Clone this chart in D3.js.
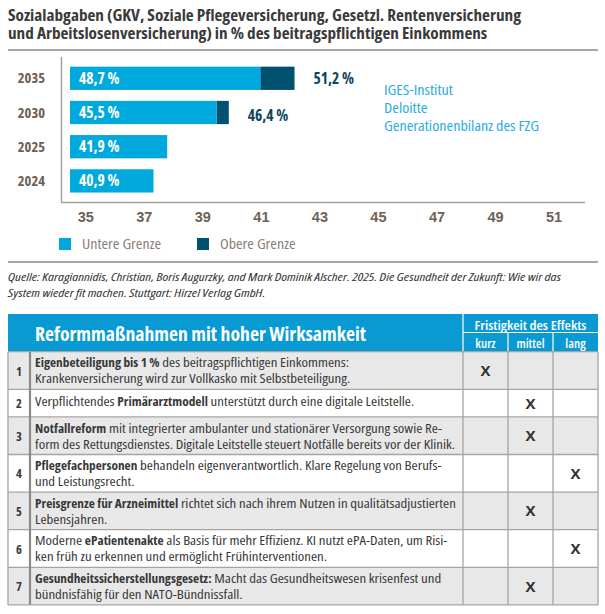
<!DOCTYPE html>
<html><head><meta charset="utf-8">
<script src="https://cdn.jsdelivr.net/npm/d3@7"></script>
<style>
body{margin:0;background:#fff}
svg{display:block;font-family:"Open Sans","Liberation Sans",sans-serif;font-stretch:75%}
</style></head><body>
<svg id="c" width="605" height="614"></svg>
<script>
// ---------- data ----------
const titleLines = [
  "Sozialabgaben (GKV, Soziale Pflegeversicherung, Gesetzl. Rentenversicherung",
  "und Arbeitslosenversicherung) in % des beitragspflichtigen Einkommens"
];
const years = ["2035", "2030", "2025", "2024"];
const lowerBound = [48.7, 45.5, 41.9, 40.9];
const upperBound = [51.2, 46.4, null, null];
const tickValues = [35, 37, 39, 41, 43, 45, 47, 49, 51];
const sourceNames = ["IGES-Institut", "Deloitte", "Generationenbilanz des FZG"];
const legendLabels = ["Untere Grenze", "Obere Grenze"];
const citation = [
  "Quelle: Karagiannidis, Christian, Boris Augurzky, and Mark Dominik Alscher. 2025. Die Gesundheit der Zukunft: Wie wir das",
  "System wieder fit machen. Stuttgart: Hirzel Verlag GmbH."
];
const tableTitle = "Reformmaßnahmen mit hoher Wirksamkeit";
const horizonTitle = "Fristigkeit des Effekts";
const horizons = ["kurz", "mittel", "lang"];
const measures = [
  ["**Eigenbeteiligung bis 1 %** des beitragspflichtigen Einkommens:",
   "Krankenversicherung wird zur Vollkasko mit Selbstbeteiligung."],
  ["Verpflichtendes **Primärarztmodell** unterstützt durch eine digitale Leitstelle."],
  ["**Notfallreform** mit integrierter ambulanter und stationärer Versorgung sowie Re-",
   "form des Rettungsdienstes. Digitale Leitstelle steuert Notfälle bereits vor der Klinik."],
  ["**Pflegefachpersonen** behandeln eigenverantwortlich. Klare Regelung von Berufs-",
   "und Leistungsrecht."],
  ["**Preisgrenze für Arzneimittel** richtet sich nach ihrem Nutzen in qualitätsadjustierten",
   "Lebensjahren."],
  ["Moderne **ePatientenakte** als Basis für mehr Effizienz. KI nutzt ePA-Daten, um Risi-",
   "ken früh zu erkennen und ermöglicht Frühinterventionen."],
  ["**Gesundheitssicherstellungsgesetz:** Macht das Gesundheitswesen krisenfest und",
   "bündnisfähig für den NATO-Bündnissfall."]
];
const measureHorizon = ["kurz", "mittel", "mittel", "lang", "mittel", "lang", "mittel"];

// ---------- style ----------
const C = {
  light: "#00a9dd", dark: "#00506f", header: "#0a9ad3",
  axis: "#a7a19b", label: "#6e6155", text: "#383838", source: "#2bace2",
  rowGray: "#e8e8e8", grid: "#aaa49e"
};
const de = d3.formatLocale({decimal: ",", thousands: ".", grouping: [3], currency: ["", " €"]});
const fmt = v => de.format(".1f")(v) + " %";

// stretch a group of texts horizontally by a common factor so that its reference text has the given width
function fit(sel, refIndex, width) {
  const nodes = sel.nodes();
  const k = width / nodes[refIndex].getComputedTextLength();
  nodes.forEach(n => {
    n.setAttribute("textLength", (n.getComputedTextLength() * k).toFixed(2));
    n.setAttribute("lengthAdjust", "spacingAndGlyphs");
  });
}

const svg = d3.select("#c");
svg.append("rect").attr("width", 605).attr("height", 614).attr("fill", "#fff");

// ---------- title ----------
const title = svg.append("g").selectAll("text").data(titleLines).join("text")
  .attr("x", 8).attr("y", (d, i) => 21 + i * 17.5)
  .attr("font-size", 16).attr("font-weight", 700).attr("fill", "#3a3a3a")
  .text(d => d);
fit(title, 0, 513);
svg.append("line").attr("x1", 8).attr("x2", 598).attr("y1", 50).attr("y2", 50)
  .attr("stroke", "#8e8a86").attr("stroke-width", 1.5);

// ---------- chart ----------
const xBar = d3.scaleLinear().domain([34.8, 51.2]).range([70, 294.5]);
const xTick = d3.scaleLinear().domain([35, 51]).range([85.3, 553.5]);
const y = d3.scaleBand().domain(years).range([61.2, 198]).paddingInner(0.32).paddingOuter(0.16);

const rows = years.map((yr, i) => ({yr, lo: lowerBound[i], hi: upperBound[i]}));

svg.append("line").attr("x1", 61.5).attr("x2", 61.5).attr("y1", 57).attr("y2", 202.5)
  .attr("stroke", C.axis).attr("stroke-width", 1.5);
svg.append("line").attr("x1", 61).attr("x2", 585).attr("y1", 202.5).attr("y2", 202.5)
  .attr("stroke", C.axis).attr("stroke-width", 1.5);

const gBars = svg.append("g");
gBars.selectAll("rect.hi").data(rows.filter(d => d.hi != null)).join("rect")
  .attr("class", "hi")
  .attr("x", d => xBar(d.lo)).attr("width", d => xBar(d.hi) - xBar(d.lo))
  .attr("y", d => y(d.yr)).attr("height", y.bandwidth()).attr("fill", C.dark);
gBars.selectAll("rect.lo").data(rows).join("rect")
  .attr("class", "lo")
  .attr("x", xBar(34.8)).attr("width", d => xBar(d.lo) - xBar(34.8))
  .attr("y", d => y(d.yr)).attr("height", y.bandwidth()).attr("fill", C.light);
gBars.selectAll("text.in").data(rows).join("text")
  .attr("class", "in")
  .attr("x", xBar(34.8) + 9).attr("y", d => y(d.yr) + y.bandwidth() / 2 + 5.5)
  .attr("font-size", 15.5).attr("font-weight", 700).attr("fill", "#fff")
  .style("font-stretch", "85%")
  .text(d => fmt(d.lo));
gBars.selectAll("text.out").data(rows.filter(d => d.hi != null)).join("text")
  .attr("class", "out")
  .attr("x", d => xBar(d.hi) + 19).attr("y", (d, i) => y(d.yr) + y.bandwidth() / 2 + 5.5 + i * 3)
  .attr("font-size", 15.5).attr("font-weight", 700).attr("fill", "#0d4560")
  .style("font-stretch", "80%")
  .text(d => fmt(d.hi));

// year labels
svg.append("g").selectAll("text").data(years).join("text")
  .attr("x", 45).attr("y", d => y(d) + y.bandwidth() / 2 + 5)
  .attr("text-anchor", "end").attr("font-size", 14.5).attr("font-weight", 700).attr("fill", C.label)
  .style("font-stretch", "80%")
  .text(d => d);

// x axis labels
const gx = svg.append("g").attr("transform", "translate(0,203)")
  .call(d3.axisBottom(xTick).tickValues(tickValues).tickSize(0).tickPadding(9).tickFormat(d3.format("d")));
gx.select(".domain").remove();
gx.selectAll("text").attr("font-size", 14.5).attr("font-weight", 700).attr("fill", C.label)
  .attr("font-family", null).style("font-stretch", "80%");

// sources
const src = svg.append("g").selectAll("text").data(sourceNames).join("text")
  .attr("x", 384).attr("y", (d, i) => 95 + i * 17.8)
  .attr("font-size", 14).attr("fill", C.source).text(d => d);
fit(src, 2, 155);

// legend
const lg = svg.append("g").selectAll("g").data(legendLabels).join("g")
  .attr("transform", (d, i) => `translate(${59 + i * 138},238)`);
lg.append("rect").attr("width", 12).attr("height", 12).attr("fill", (d, i) => i ? C.dark : C.light);
const lgt = lg.append("text").attr("x", 23).attr("y", 11).attr("font-size", 14).attr("fill", "#8a8079").text(d => d);
fit(lgt, 0, 79);

svg.append("line").attr("x1", 8).attr("x2", 598).attr("y1", 262).attr("y2", 262)
  .attr("stroke", "#8e8a86").attr("stroke-width", 1.5);

// citation
const cit = svg.append("g").selectAll("text").data(citation).join("text")
  .attr("x", 8).attr("y", (d, i) => 281 + i * 16)
  .attr("font-size", 11.5).attr("font-style", "italic").attr("fill", "#333")
  .text(d => d);
fit(cit, 0, 553);

// ---------- table ----------
const tL = 8, tR = 598, tTop = 314, hBot = 351.7;
const colNum = 30, colK = 463;
const xH = d3.scaleBand().domain(horizons).range([colK, tR]);

svg.append("rect").attr("x", tL).attr("y", tTop).attr("width", tR - tL).attr("height", hBot - tTop).attr("fill", C.header);
const tt = svg.append("text").attr("x", 35).attr("y", 341).attr("font-size", 20).attr("font-weight", 700).attr("fill", "#fff").text(tableTitle);
fit(tt, 0, 331);
const ht = svg.append("text").attr("x", (colK + tR) / 2).attr("y", 330).attr("text-anchor", "middle")
  .attr("font-size", 13).attr("font-weight", 600).attr("fill", "#fff").text(horizonTitle);
fit(ht, 0, 112);
svg.append("line").attr("x1", colK).attr("x2", tR).attr("y1", 332.5).attr("y2", 332.5).attr("stroke", "#fff").attr("stroke-width", 1);
svg.append("line").attr("x1", colK).attr("x2", colK).attr("y1", tTop).attr("y2", hBot).attr("stroke", "#fff").attr("stroke-width", 1.2);
svg.append("g").selectAll("line").data(horizons.slice(1)).join("line")
  .attr("x1", d => xH(d)).attr("x2", d => xH(d)).attr("y1", 332.5).attr("y2", hBot)
  .attr("stroke", "#fff").attr("stroke-width", 1.2);
svg.append("g").selectAll("text").data(horizons).join("text")
  .attr("x", d => xH(d) + xH.bandwidth() / 2).attr("y", 347.5).attr("text-anchor", "middle")
  .attr("font-size", 13).attr("font-weight", 600).attr("fill", "#fff")
  .style("font-stretch", "85%").text(d => d);

// rows
let acc = hBot;
const rowData = measures.map((lines, i) => {
  const h = lines.length === 1 ? 27.6 : 37.6;
  const r = {i, lines, top: acc, h, horizon: measureHorizon[i]};
  acc += h;
  return r;
});
const tBot = acc;
const gr = svg.append("g").selectAll("g").data(rowData).join("g");
gr.append("rect").attr("x", tL).attr("y", d => d.top).attr("width", tR - tL).attr("height", d => d.h)
  .attr("fill", d => d.i % 2 === 0 ? C.rowGray : "#fff");
gr.append("text").attr("x", 19).attr("y", d => d.top + d.h / 2 + 5).attr("text-anchor", "middle")
  .attr("font-size", 12.5).attr("font-weight", 700).attr("fill", C.text).text(d => d.i + 1);
gr.append("text").attr("x", d => xH(d.horizon) + xH.bandwidth() / 2).attr("y", d => d.top + d.h / 2 + 5.5)
  .attr("text-anchor", "middle").attr("font-size", 15).attr("font-weight", 700).attr("fill", "#333")
  .style("font-stretch", "100%").text("X");

// measure text: each line built from regular / bold segments laid out one after another
const lineObjs = [];
gr.each(function(d) {
  const g = d3.select(this);
  d.lines.forEach((ln, j) => {
    const yb = d.lines.length === 1 ? d.top + 17 : d.top + 15.6 + j * 16;
    const segs = [];
    ln.split("**").forEach((seg, k) => {
      if (!seg) return;
      const t = g.append("text").attr("y", yb).attr("font-size", 12.3)
        .attr("font-weight", k % 2 ? 700 : 400).attr("fill", C.text)
        .style("white-space", "pre").text(seg);
      segs.push({node: t.node(), bold: k % 2 === 1, w: t.node().getComputedTextLength()});
    });
    lineObjs.push({row: d.i, j, segs});
  });
});
const refLine = lineObjs.find(l => l.row === 2 && l.j === 1);
const kReg = 420 / d3.sum(refLine.segs, s => s.w);
const kBold = kReg * 0.9;
lineObjs.forEach(l => {
  let cx = 35;
  l.segs.forEach(s => {
    const w = s.w * (s.bold ? kBold : kReg);
    s.node.setAttribute("x", cx.toFixed(2));
    s.node.setAttribute("textLength", w.toFixed(2));
    s.node.setAttribute("lengthAdjust", "spacingAndGlyphs");
    cx += w;
  });
});

// grid lines
const hl = [hBot, ...rowData.map(d => d.top + d.h)];
svg.append("g").selectAll("line").data(hl).join("line")
  .attr("x1", tL).attr("x2", tR).attr("y1", d => d).attr("y2", d => d)
  .attr("stroke", C.grid).attr("stroke-width", 1.3);
svg.append("g").selectAll("line").data([tL, colK, ...horizons.slice(1).map(h => xH(h)), tR]).join("line")
  .attr("x1", d => d).attr("x2", d => d).attr("y1", hBot).attr("y2", tBot)
  .attr("stroke", C.grid).attr("stroke-width", 1.3);
svg.append("line").attr("x1", colNum).attr("x2", colNum).attr("y1", hBot).attr("y2", tBot)
  .attr("stroke", "#8f8983").attr("stroke-width", 2.2);
</script>
</body></html>
